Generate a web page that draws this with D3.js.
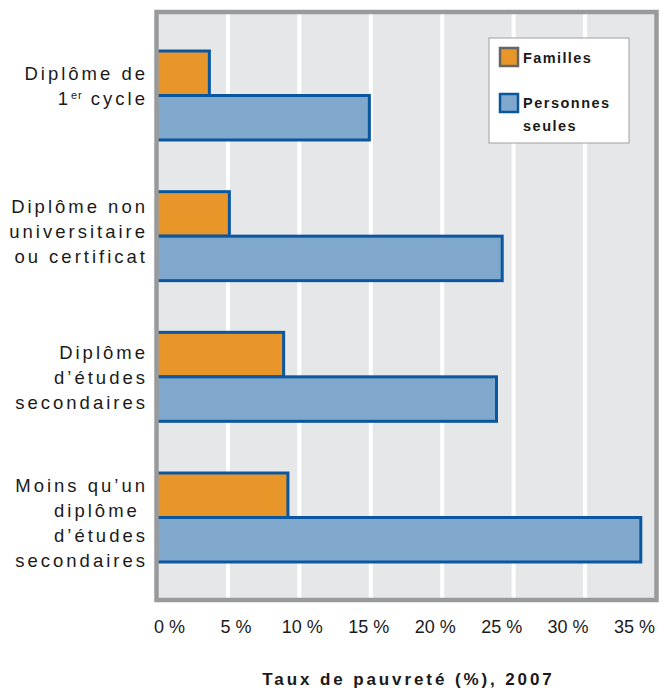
<!DOCTYPE html>
<html>
<head>
<meta charset="utf-8">
<script src="https://cdn.jsdelivr.net/npm/d3@7"></script>
<style>
  body { margin: 0; background: #fff; }
  svg { display: block; font-family: "Liberation Sans", Arial, sans-serif; }
</style>
</head>
<body>
<svg id="chart" width="672" height="692"></svg>
<script>
// Chart data
const categories = [
  ['Diplôme de', '1er cycle'],
  ['Diplôme non', 'universitaire', 'ou certificat'],
  ['Diplôme', 'd\u2019études', 'secondaires'],
  ['Moins qu\u2019un', 'diplôme\u00a0', 'd\u2019études', 'secondaires']
];
const familles = [3.7, 5.1, 8.9, 9.2];
const personnesSeules = [14.9, 24.2, 23.8, 33.9];
const tickValues = [0, 5, 10, 15, 20, 25, 30, 35];
const seriesNames = ['Familles', 'Personnes seules'];
const xTitle = 'Taux de pauvreté (%), 2007';

const svg = d3.select('#chart');

// frame of the plot area
const plotL = 156.5, plotR = 656.5, plotT = 12, plotB = 600;

const x = d3.scaleLinear().domain([0, 35]).range([plotL, plotR]);
// tick labels sit slightly off the grid in the original
const xLab = d3.scaleLinear().domain([0, 35]).range([169, 634]);

const y = d3.scaleBand()
  .domain(d3.range(categories.length))
  .range([25.7, 587.3])
  .paddingInner(0.3675)
  .paddingOuter(0.18);
const half = y.bandwidth() / 2;
// label blocks are spaced a little differently from the bars
const yLab = d3.scalePoint()
  .domain(d3.range(categories.length))
  .range([92.5, 529.2]);

// background
svg.append('rect')
  .attr('x', plotL).attr('y', plotT)
  .attr('width', plotR - plotL).attr('height', plotB - plotT)
  .attr('fill', '#e6e7e9');

// grid
svg.append('g')
  .selectAll('line')
  .data(tickValues.filter(d => d > 0 && d < 35))
  .enter()
  .append('line')
  .attr('x1', d => x(d)).attr('x2', d => x(d))
  .attr('y1', plotT).attr('y2', plotB)
  .attr('stroke', '#fff')
  .attr('stroke-width', 4);

// bars
const groups = svg.append('g')
  .selectAll('g')
  .data(categories)
  .enter()
  .append('g');

groups.append('rect')
  .attr('x', x(0))
  .attr('y', (d, i) => y(i))
  .attr('width', (d, i) => x(familles[i]) - x(0))
  .attr('height', half)
  .attr('fill', '#e8962a')
  .attr('stroke', '#0a57a0')
  .attr('stroke-width', 3);

groups.append('rect')
  .attr('x', x(0))
  .attr('y', (d, i) => y(i) + half)
  .attr('width', (d, i) => x(personnesSeules[i]) - x(0))
  .attr('height', half)
  .attr('fill', '#80a8cd')
  .attr('stroke', '#0a57a0')
  .attr('stroke-width', 3);

// frame
svg.append('rect')
  .attr('x', plotL).attr('y', plotT)
  .attr('width', plotR - plotL).attr('height', plotB - plotT)
  .attr('fill', 'none')
  .attr('stroke', '#999a9c')
  .attr('stroke-width', 4.5);

// category labels
const lineH = 25, ls = 3;
groups.each(function(lines, i) {
  const cy = yLab(i);
  const t = d3.select(this).append('text')
    .attr('text-anchor', 'end')
    .attr('font-size', 18.5)
    .attr('letter-spacing', ls)
    .attr('fill', '#1a1a1a');
  lines.forEach((ln, j) => {
    const ty = cy + (j - (lines.length - 1) / 2) * lineH;
    if (ln === '1er cycle') {
      const ts = t.append('tspan').attr('x', 145 + ls).attr('y', ty);
      ts.append('tspan').text('1');
      ts.append('tspan').attr('dy', -6).attr('font-size', 11).attr('letter-spacing', 1).text('er');
      ts.append('tspan').attr('dy', 6).text('\u00a0cycle');
    } else {
      t.append('tspan').attr('x', 145 + ls).attr('y', ty).text(ln);
    }
  });
});

// x axis tick labels
const axis = d3.axisBottom(xLab)
  .tickValues(tickValues)
  .tickSize(0)
  .tickPadding(0)
  .tickFormat(d => d + ' %');
svg.append('g')
  .attr('transform', 'translate(0,620)')
  .call(axis)
  .call(g => g.select('.domain').remove())
  .selectAll('text')
  .attr('font-size', 18)
  .attr('font-family', '"Liberation Sans", Arial, sans-serif')
  .attr('fill', '#1a1a1a');

// axis title
svg.append('text')
  .attr('x', 407 + 1.5).attr('y', 685)
  .attr('text-anchor', 'middle')
  .attr('font-size', 17)
  .attr('font-weight', 'bold')
  .attr('letter-spacing', 2.9)
  .attr('fill', '#1a1a1a')
  .text(xTitle);

// legend
const lg = svg.append('g').attr('transform', 'translate(489,38)');
lg.append('rect')
  .attr('width', 140).attr('height', 105)
  .attr('fill', '#fff')
  .attr('stroke', '#a0a0a0')
  .attr('stroke-width', 1);
lg.append('rect')
  .attr('x', 11).attr('y', 10).attr('width', 18).attr('height', 18)
  .attr('fill', '#e8962a').attr('stroke', '#666').attr('stroke-width', 2.5);
lg.append('rect')
  .attr('x', 11).attr('y', 56).attr('width', 18).attr('height', 18)
  .attr('fill', '#80a8cd').attr('stroke', '#0a57a0').attr('stroke-width', 2.5);
lg.append('text')
  .attr('x', 34).attr('y', 25)
  .attr('font-size', 14.5).attr('font-weight', 'bold').attr('letter-spacing', 1.4)
  .attr('fill', '#1a1a1a')
  .text(seriesNames[0]);
const t2 = lg.append('text')
  .attr('font-size', 14.5).attr('font-weight', 'bold').attr('letter-spacing', 1.5)
  .attr('fill', '#1a1a1a');
t2.append('tspan').attr('x', 34).attr('y', 70).text('Personnes');
t2.append('tspan').attr('x', 34).attr('y', 93).text('seules');
</script>
</body>
</html>
